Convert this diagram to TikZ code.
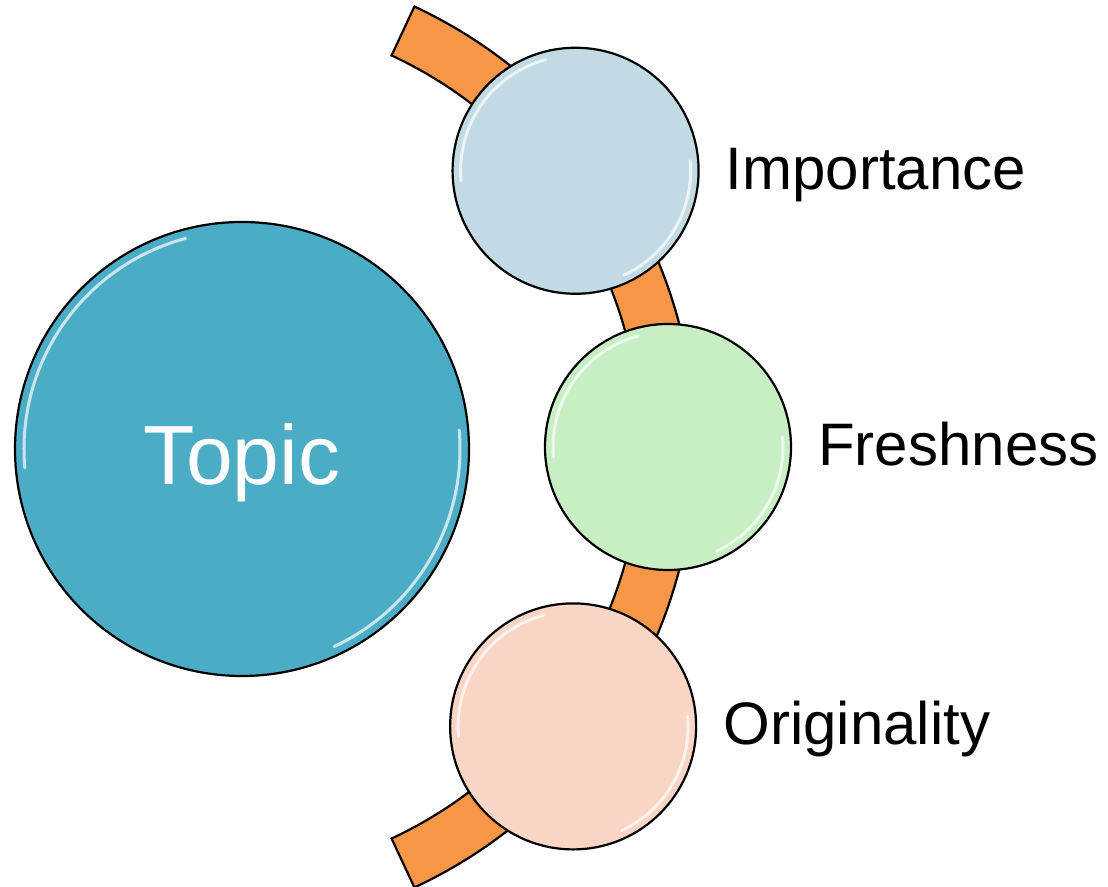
\documentclass[tikz,border=0pt]{standalone}
\usepackage{fontspec}
\setmainfont{Liberation Sans}
\usetikzlibrary{positioning}

\definecolor{topiccol}{RGB}{75,172,198}
\definecolor{impcol}{RGB}{193,218,227}
\definecolor{frshcol}{RGB}{200,238,196}
\definecolor{origcol}{RGB}{248,213,196}
\definecolor{bandcol}{RGB}{247,150,70}

\tikzset{
  bubble/.style={circle,draw=black,line width=2.2pt,inner sep=0pt,minimum size=246pt},
  tag/.style={font=\fontsize{60}{72}\selectfont,inner sep=0pt,text height=45pt,text depth=8pt},
  gloss/.style={white,line width=3pt,opacity=0.7,line cap=round}
}

%% white shine on a bubble: node, radius
\newcommand\Gloss[2]{%
  \draw[gloss] ([shift={(105:#2)}]#1.center) arc[start angle=105,end angle=185,radius=#2];
  \draw[gloss] ([shift={(-65:#2)}]#1.center) arc[start angle=-65,end angle=5,radius=#2];}

\begin{document}
\begin{tikzpicture}[x=1pt,y=1pt]
  \useasboundingbox (0,0) rectangle (1108,886);

  \coordinate (hub) at (209,439);

  %% orange band behind the bubbles
  \filldraw[fill=bandcol,line width=2.2pt]
  ([shift={(65:432pt)}]hub) arc[start angle=65,end angle=-65,radius=432pt]
  -- ([shift={(-65:486pt)}]hub) arc[start angle=-65,end angle=65,radius=486pt] -- cycle;

  \node[bubble,fill=topiccol,minimum size=454pt,text=white,
  font=\fontsize{84}{100}\selectfont,text height=72pt,text depth=0pt]
  (topic) at (242,437) {Topic};

  \node[bubble,fill=impcol] (imp) at ([shift={(37:459pt)}]hub) {};
  \node[bubble,fill=frshcol] (frsh) at ([shift={(0:459pt)}]hub) {};
  \node[bubble,fill=origcol] (orig) at ([shift={(-37.5:459pt)}]hub) {};

  \Gloss{topic}{218pt}
  \Gloss{imp}{115pt}
  \Gloss{frsh}{115pt}
  \Gloss{orig}{115pt}

  \node[tag,right=26pt of imp] (impl) {Importance};
  \node[tag,right=26pt of frsh] (frshl) {Freshness};
  \node[tag,right=26pt of orig] (origl) {Originality};

\end{tikzpicture}
\end{document}
